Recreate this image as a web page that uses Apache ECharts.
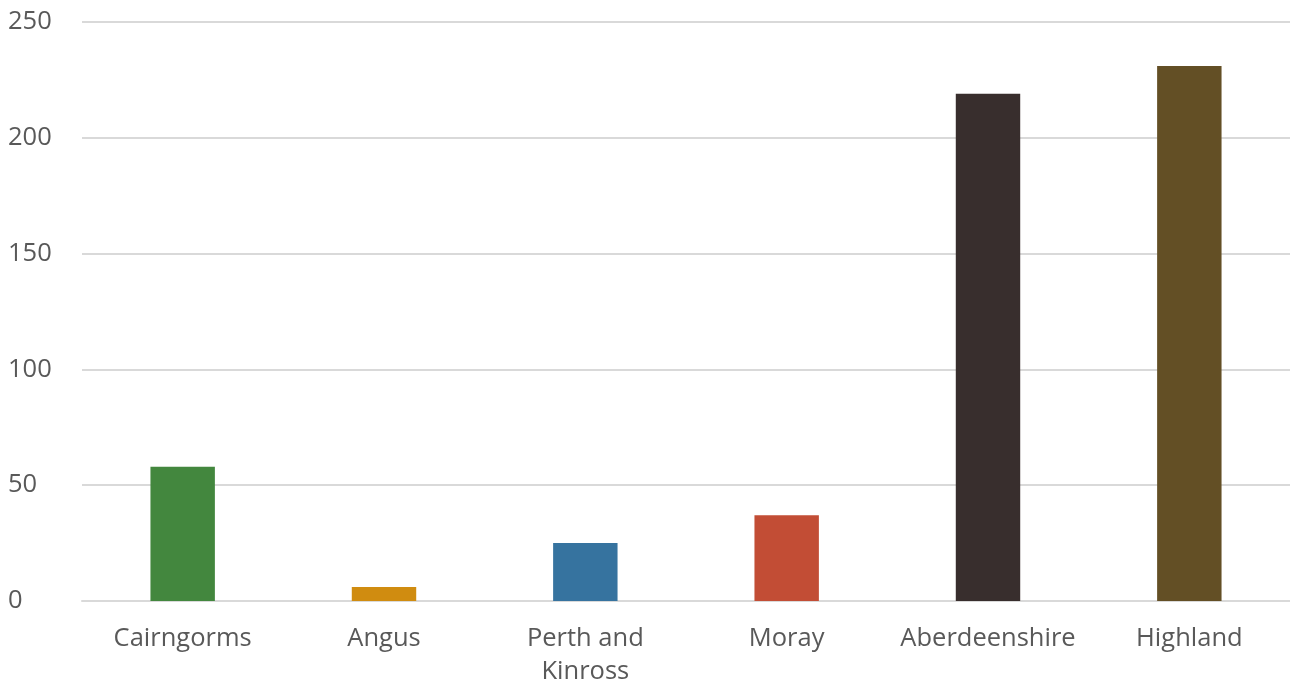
<!DOCTYPE html>
<html>
<head>
<meta charset="utf-8">
<script src="https://cdn.jsdelivr.net/npm/echarts@6/dist/echarts.min.js"></script>
<style>
  html, body { margin: 0; padding: 0; background: #ffffff; }
  #chart { width: 1290px; height: 682px; }
</style>
</head>
<body>
<div id="chart"></div>
<script>
// Areas and their counts
const categories = ['Cairngorms', 'Angus', 'Perth and\nKinross', 'Moray', 'Aberdeenshire', 'Highland'];
const values = [58, 6, 25, 37, 219, 231];
const barColors = ['#43873e', '#d08c10', '#36739f', '#c24d35', '#382e2d', '#634f25'];
const yTicks = [0, 50, 100, 150, 200, 250];

const FONT = '"Open Sans", "Noto Sans", sans-serif';
const chart = echarts.init(document.getElementById('chart'));

chart.setOption({
  animation: false,
  backgroundColor: '#ffffff',
  grid: { left: 82, right: 0, top: 22, bottom: 81, containLabel: false, outerBoundsMode: 'none' },
  xAxis: {
    type: 'category',
    data: categories,
    axisTick: { show: false },
    axisLine: { show: true, lineStyle: { color: '#d9d9d9', width: 2 } },
    axisLabel: {
      color: '#595959', fontSize: 25.5, fontFamily: FONT,
      margin: 21, lineHeight: 33, interval: 0
    }
  },
  yAxis: {
    type: 'value',
    min: yTicks[0],
    max: yTicks[yTicks.length - 1],
    interval: 50,
    axisLine: { show: false },
    axisTick: { show: false },
    splitLine: { lineStyle: { color: '#d9d9d9', width: 2 } },
    axisLabel: {
      color: '#595959', fontSize: 25.5, fontFamily: FONT,
      align: 'left', margin: 74
    }
  },
  series: [{
    type: 'bar',
    barWidth: '32%',
    data: values.map((v, i) => ({ value: v, itemStyle: { color: barColors[i] } }))
  }]
});
</script>
</body>
</html>
